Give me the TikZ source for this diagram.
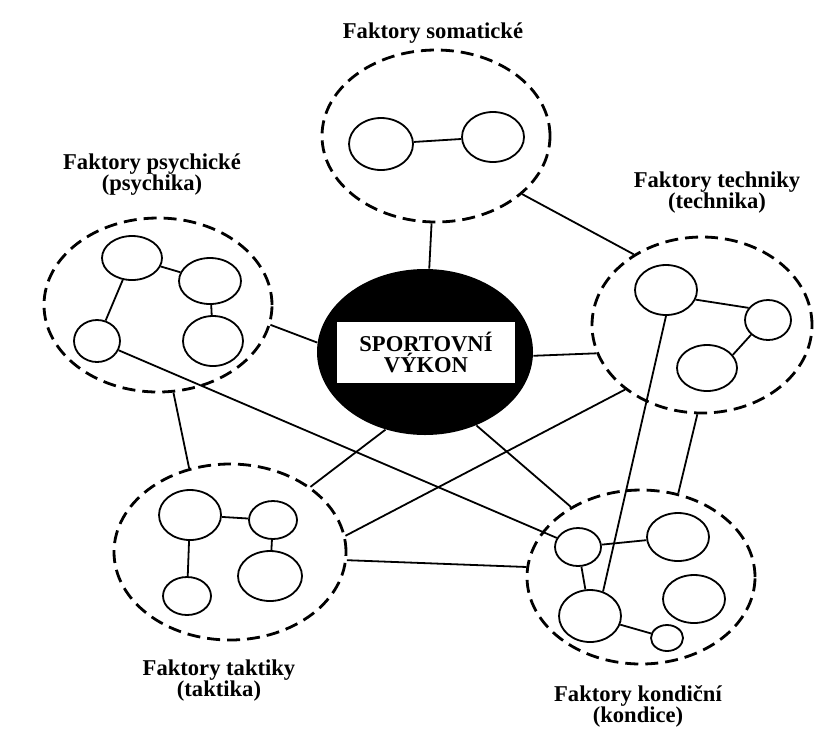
\documentclass[tikz,border=0pt]{standalone}
\usepackage{fontspec}
\setmainfont{Liberation Serif}
\usetikzlibrary{shapes.geometric}

\begin{document}
\begin{tikzpicture}[
    x=0.5pt, y=-0.5pt,
    group/.style={draw, ellipse, dash pattern=on 6.5pt off 3.5pt,
                  line width=1.4pt, inner sep=0pt},
    part/.style 2 args={draw, ellipse, line width=0.9pt, inner sep=0pt,
                        minimum width=#1pt, minimum height=#2pt},
    lnk/.style={line width=0.9pt},
    lbl/.style={font=\fontsize{11.3}{10.5}\selectfont\bfseries,
                align=center, inner sep=0pt},
]

\fill[white] (0,0) rectangle (817,740);
\useasboundingbox (0,0) rectangle (817,740);

% factor groups
\node[group, minimum width=114pt, minimum height=86pt] (soma) at (436,136) {};
\node[group, minimum width=114pt, minimum height=87pt] (psy)  at (158,305) {};
\node[group, minimum width=110pt, minimum height=88pt] (tech) at (702,325) {};
\node[group, minimum width=116pt, minimum height=88pt] (takt) at (230,552) {};
\node[group, minimum width=114pt, minimum height=87pt] (kond) at (641,577) {};

% performance hub
\node[ellipse, fill=black, inner sep=0pt,
      minimum width=108pt, minimum height=83pt] (hub) at (425,352) {};
\node[lbl, fill=white, minimum width=89pt, minimum height=30.5pt]
    (hubTxt) at (426,352.5) {SPORTOVNÍ\\VÝKON};

% labels
\node[lbl] (somaLbl) at (433,33)  {Faktory somatické};
\node[lbl] (psyLbl)  at (152,175) {Faktory psychické\\(psychika)};
\node[lbl] (techLbl) at (717,193) {Faktory techniky\\(technika)};
\node[lbl] (taktLbl) at (219,681) {Faktory taktiky\\(taktika)};
\node[lbl] (kondLbl) at (638,706) {Faktory kondiční\\(kondice)};

% parts inside the groups
\node[part={32}{26}] (sa) at (381,144) {};
\node[part={31}{25}] (sb) at (493,137) {};

\node[part={30}{22}] (pa) at (132,258) {};
\node[part={31}{23}] (pb) at (210,281) {};
\node[part={23}{21}] (pc) at (97,341) {};
\node[part={30}{25}] (pd) at (213,341) {};

\node[part={31}{25}] (ta) at (666,290) {};
\node[part={23}{20}] (tb) at (768,320) {};
\node[part={30}{23}] (tc) at (707,368) {};

\node[part={31}{25}] (ka) at (190,515) {};
\node[part={24}{19}] (kb) at (273,520) {};
\node[part={32}{25}] (kc) at (270,576) {};
\node[part={24}{19}] (kd) at (187,596) {};

\node[part={23}{19}] (ca) at (578,547) {};
\node[part={31}{24}] (cb) at (678,537) {};
\node[part={31}{24}] (cc) at (694,599) {};
\node[part={31}{26}] (cd) at (590,616) {};
\node[part={16}{13}] (ce) at (667,638) {};

% links inside the groups
\draw[lnk] (sa) -- (sb);
\draw[lnk] (pa) -- (pb);
\draw[lnk] (pa) -- (pc);
\draw[lnk] (pb) -- (pd);
\draw[lnk] (ta.-18) -- (tb.148);
\draw[lnk] (tb.221) -- (tc.27);
\draw[lnk] (ka) -- (kb);
\draw[lnk] (ka) -- (kd);
\draw[lnk] (kb) -- (kc);
\draw[lnk] (ca) -- (cb);
\draw[lnk] (ca) -- (cd);
\draw[lnk] (cd) -- (ce);

% links between the groups
\draw[lnk] (soma) -- (hub);
\draw[lnk] (soma.-34) -- (tech.134);
\draw[lnk] (psy.-10) -- (hub.175);
\draw[lnk] (hub.-2) -- (tech.195);
\draw[lnk] (psy.-80) -- (takt.116);
\draw[lnk] (pc) -- (ca);
\draw[lnk] (hub.-117) -- (takt.39);
\draw[lnk] (hub.-55) -- (kond.135);
\draw[lnk] (takt.8) -- (tech.220);
\draw[lnk] (takt.-4) -- (kond.175);
\draw[lnk] (ta.south) -- (cd.62);
\draw[lnk] (tech.-93) -- (kond.66);

\end{tikzpicture}
\end{document}
